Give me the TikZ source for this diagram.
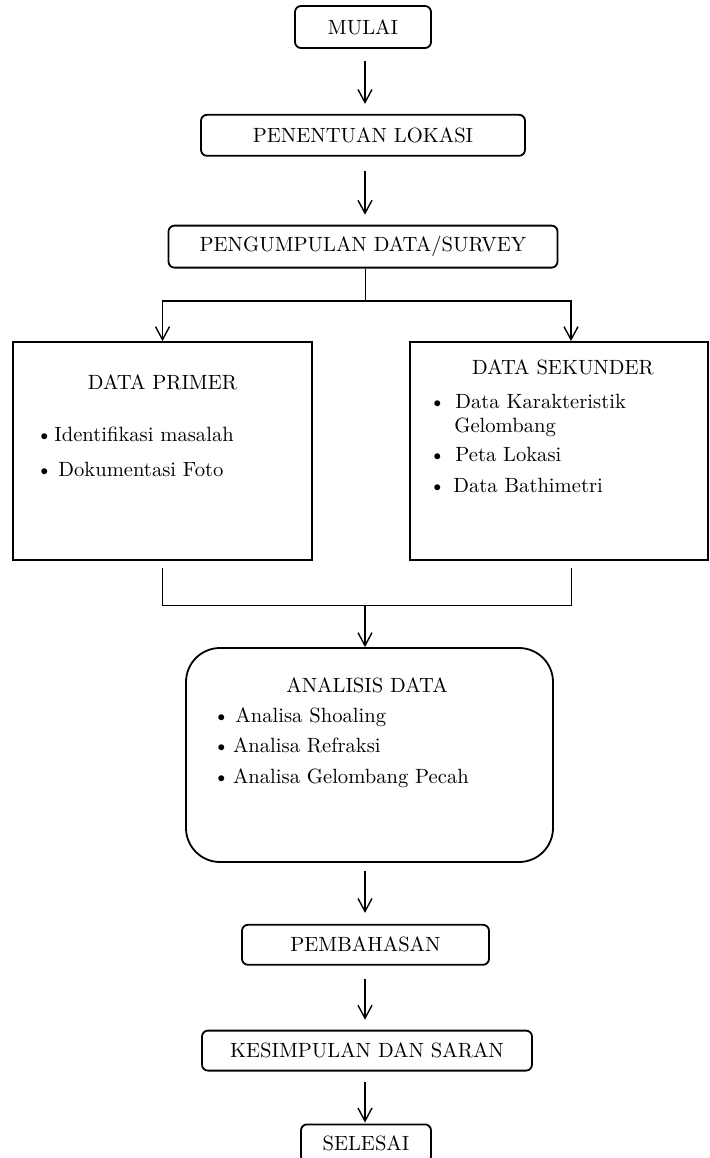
\documentclass[tikz,border=0pt]{standalone}
\usepackage{tikz}
\usetikzlibrary{arrows.meta, positioning, shapes}

\begin{document}
\begin{tikzpicture}[x=0.5pt, y=-0.5pt,
	every node/.style={font=\fontsize{10.3}{12}\selectfont},
	flowbox/.style={draw, line width=0.9pt, rounded corners=3pt, inner sep=0pt},
	bigbox/.style={draw, line width=0.9pt, inner sep=0pt, minimum height=109pt},
	itemtext/.style={inner sep=0pt, anchor=west},
	flowline/.style={line width=0.5pt},
	flowarrow/.style={line width=0.7pt, -{Straight Barb[length=6.5pt, width=7pt]}}
]

\useasboundingbox (0,0) rectangle (710,1158);

\node [flowbox, minimum width=68pt, minimum height=21pt] (1) at (363,27) {MULAI};

\node [flowbox, minimum width=162pt, minimum height=20.5pt, below=32.5pt of 1] (2) {PENENTUAN LOKASI};

\node [flowbox, minimum width=194.5pt, minimum height=21pt, below=34pt of 2] (3) {PENGUMPULAN DATA/SURVEY};

\node [bigbox, minimum width=149.5pt] (4) at (162.5,451) {};
\node [inner sep=0pt] (4t) at (162.5,382) {DATA PRIMER};
\node [itemtext] (4a) at (36,434) {\textbullet\hspace{1pt}Identifikasi masalah};
\node [itemtext] (4b) at (36,469) {\textbullet\hspace{3pt}Dokumentasi Foto};

\node [bigbox, minimum width=149pt] (5) at (559,451) {};
\node [inner sep=0pt] (5t) at (563,367) {DATA SEKUNDER};
\node [itemtext] (5a) at (429,401) {\textbullet\hspace{5pt}Data Karakteristik};
\node [itemtext] (5b) at (454,427) {Gelombang};
\node [itemtext] (5c) at (429,454) {\textbullet\hspace{5pt}Peta Lokasi};
\node [itemtext] (5d) at (429,485) {\textbullet\hspace{4pt}Data Bathimetri};

\node [draw, line width=0.9pt, rounded corners=17pt, minimum width=183.5pt, minimum height=107pt] (6) at (369.5,755) {};
\node [inner sep=0pt] (6t) at (367,685) {ANALISIS DATA};
\node [itemtext] (6a) at (213,717) {\textbullet\hspace{3pt}Analisa Shoaling};
\node [itemtext] (6b) at (213,745) {\textbullet\hspace{1.8pt}Analisa Refraksi};
\node [itemtext] (6c) at (213,778) {\textbullet\hspace{1.8pt}Analisa Gelombang Pecah};

\node [flowbox, minimum width=123.5pt, minimum height=20pt, below=30.5pt of 6, xshift=-2pt] (7) {PEMBAHASAN};

\node [flowbox, minimum width=165pt, minimum height=20pt, below=32pt of 7, xshift=0.75pt] (8) {KESIMPULAN DAN SARAN};

\node [flowbox, minimum width=65pt, minimum height=19pt, below=26pt of 8, xshift=-0.5pt] (9) {SELESAI};

% connectors
\coordinate (f) at (365,301);
\coordinate (j) at (365,605);

\draw [flowarrow, shorten <=6pt, shorten >=5pt] (1.south -| f) -- (f |- 2.north);
\draw [flowarrow, shorten <=7pt, shorten >=5pt] (2.south -| f) -- (f |- 3.north);

\draw [flowline] (3.south -| f) -- (f);
\draw [flowarrow] (f) -| (4.north);
\draw [flowarrow] (f) -| ([xshift=6pt]5.north);

\draw [flowline] ([yshift=-3.5pt]4.south) |- (j);
\draw [flowline] ([xshift=6pt, yshift=-3.5pt]5.south) |- (j);
\draw [flowarrow] (j) -- (j |- 6.north);

\draw [flowarrow, shorten <=4pt, shorten >=5.5pt] (6.south -| j) -- (j |- 7.north);
\draw [flowarrow, shorten <=6.5pt, shorten >=5pt] (7.south -| j) -- (j |- 8.north);
\draw [flowarrow, shorten <=5pt, shorten >=0.5pt] (8.south -| j) -- (j |- 9.north);

\end{tikzpicture}
\end{document}
